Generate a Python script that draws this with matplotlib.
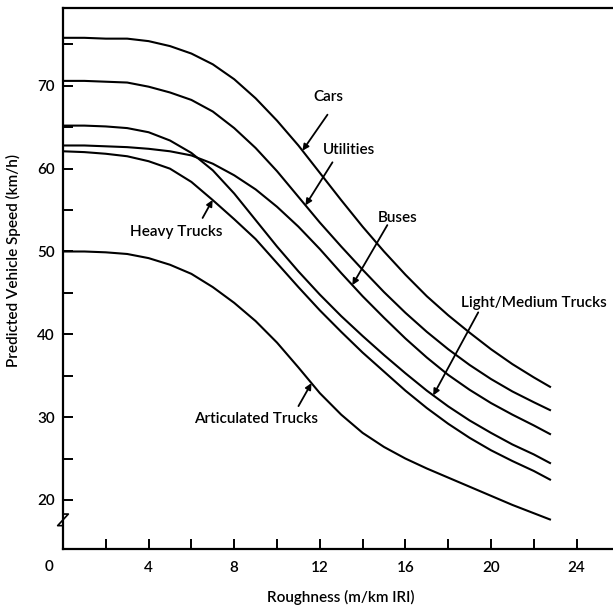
import numpy as np
import matplotlib
matplotlib.use("Agg")
import matplotlib.pyplot as plt

plt.rcParams['font.family'] = ['Lato', 'DejaVu Sans']
plt.rcParams['font.weight'] = 'semibold'

# Roughness (m/km IRI)
roughness = [0, 1, 2, 3, 4, 5, 6, 7, 8, 9, 10, 11, 12, 13, 14, 15, 16, 17, 18, 19, 20, 21, 22, 22.8]

# Predicted vehicle speed (km/h)
cars = [75.8, 75.8, 75.7, 75.7, 75.4, 74.8, 73.9, 72.6, 70.8, 68.5, 65.8, 62.8, 59.5, 56.2,
        53.0, 50.0, 47.2, 44.6, 42.3, 40.2, 38.2, 36.4, 34.8, 33.6]
utilities = [70.6, 70.6, 70.5, 70.4, 69.9, 69.2, 68.3, 66.9, 64.9, 62.5, 59.7, 56.6, 53.5, 50.6,
             47.8, 45.1, 42.6, 40.3, 38.2, 36.3, 34.6, 33.1, 31.8, 30.8]
buses = [62.8, 62.8, 62.7, 62.6, 62.4, 62.1, 61.6, 60.6, 59.2, 57.5, 55.4, 53.0, 50.3, 47.4,
         44.6, 42.0, 39.5, 37.2, 35.1, 33.3, 31.7, 30.3, 29.0, 27.9]
light_medium_trucks = [65.2, 65.2, 65.1, 64.9, 64.4, 63.4, 61.9, 59.8, 57.0, 53.8, 50.6, 47.6,
                       44.8, 42.2, 39.8, 37.5, 35.3, 33.2, 31.3, 29.6, 28.1, 26.7, 25.5, 24.4]
heavy_trucks = [62.1, 62.0, 61.8, 61.5, 60.9, 60.0, 58.4, 56.2, 53.9, 51.5, 48.6, 45.7, 42.9,
                40.3, 37.8, 35.5, 33.2, 31.1, 29.2, 27.5, 26.0, 24.7, 23.5, 22.4]
articulated_trucks = [50.0, 50.0, 49.9, 49.7, 49.2, 48.4, 47.3, 45.7, 43.8, 41.6, 39.0, 36.0,
                      32.9, 30.3, 28.1, 26.4, 25.0, 23.8, 22.7, 21.6, 20.5, 19.4, 18.4, 17.6]

series_names = ["Cars", "Utilities", "Buses", "Light/Medium Trucks", "Heavy Trucks", "Articulated Trucks"]
series_values = [cars, utilities, buses, light_medium_trucks, heavy_trucks, articulated_trucks]

x_major = [4, 8, 12, 16, 20, 24]
x_minor = [2, 6, 10, 14, 18, 22]
y_major = [20, 30, 40, 50, 60, 70]
y_minor = [25, 35, 45, 55, 65, 75]

# label placement (data coords) and arrow tips (roughness on curve), tail offsets (pixels)
label_pos = {
    "Cars": (12.4, 68.6),
    "Utilities": (13.35, 62.3),
    "Buses": (15.62, 54.0),
    "Light/Medium Trucks": (22.0, 43.8),
    "Heavy Trucks": (5.31, 52.3),
    "Articulated Trucks": (9.04, 29.8),
}
arrow_tip_x = {
    "Cars": 11.19,
    "Utilities": 11.33,
    "Buses": 13.52,
    "Light/Medium Trucks": 17.30,
    "Heavy Trucks": 6.99,
    "Articulated Trucks": 11.61,
}
arrow_tail = {
    "Cars": (25, 36),
    "Utilities": (27, 43),
    "Buses": (35, 60),
    "Light/Medium Trucks": (45, 83),
    "Heavy Trucks": (-10, -18),
    "Articulated Trucks": (-13, -23),
}

fig = plt.figure(figsize=(6.13, 6.06), dpi=100)
ax = fig.add_axes([63 / 613, (606 - 549) / 606, 1 - 63 / 613, (549 - 8) / 606])

for name, vals in zip(series_names, series_values):
    ax.plot(roughness, vals, color='black', lw=1.5, solid_capstyle='butt',
            solid_joinstyle='round')

for name, vals in zip(series_names, series_values):
    tx = arrow_tip_x[name]
    ty = float(np.interp(tx, roughness, vals))
    ax.annotate('', xy=(tx, ty), xytext=arrow_tail[name], textcoords='offset pixels',
                arrowprops=dict(arrowstyle='-|>', color='black', lw=1.3,
                                mutation_scale=9, shrinkA=0, shrinkB=0))
    lx, ly = label_pos[name]
    ax.text(lx, ly, name, ha='center', va='center', fontsize=11, color='black',
            fontweight='semibold')

ax.set_xlim(0, 25.7)
ax.set_ylim(14.08, 79.4)

ax.set_xticks(x_major)
ax.set_xticks(x_minor, minor=True)
ax.set_xticklabels([str(v) for v in x_major])
ax.set_yticks(y_major)
ax.set_yticks(y_minor, minor=True)
ax.set_yticklabels([str(v) for v in y_major])

ax.tick_params(axis='both', which='both', direction='in', length=7, width=1.4,
               labelsize=11, color='black')
ax.tick_params(axis='x', which='both', pad=9)
ax.tick_params(axis='y', which='both', pad=6)
for lbl in ax.get_xticklabels() + ax.get_yticklabels():
    lbl.set_fontweight('semibold')

ax.text(-0.65, -0.033, "0", transform=ax.get_xaxis_transform(), ha='center', va='center',
        fontsize=11, fontweight='semibold')

for side in ['left', 'bottom', 'top']:
    ax.spines[side].set_linewidth(1.6)
ax.spines['right'].set_visible(False)

# axis break mark
ax.plot([0, 0.25, -0.25, 0], [18.3, 18.3, 16.9, 16.9], color='black', lw=1.2,
        clip_on=False, transform=ax.transData)

ax.set_xlabel("Roughness (m/km IRI)", fontsize=11, fontweight='semibold')
ax.set_ylabel("Predicted Vehicle Speed (km/h)", fontsize=11, fontweight='semibold')
ax.xaxis.set_label_coords(0.505, -0.076)
ax.yaxis.set_label_coords(-0.076, 0.534)

fig.savefig("out.png", dpi=100)
